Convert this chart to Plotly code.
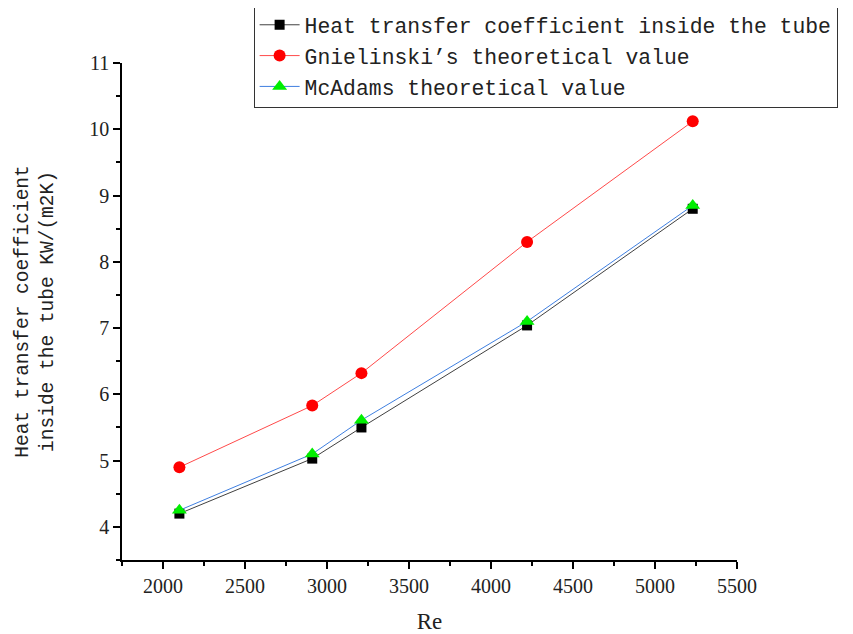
import plotly.graph_objects as go

re_values = [2100, 2910, 3210, 4220, 5230]
measured = [4.20, 5.03, 5.50, 7.04, 8.80]
gnielinski = [4.90, 5.83, 6.32, 8.30, 10.12]
mcadams = [4.25, 5.10, 5.61, 7.10, 8.85]

series_names = ["Heat transfer coefficient inside the tube",
                "Gnielinski\u2019s theoretical value",
                "McAdams theoretical value"]

fig = go.Figure()
fig.add_trace(go.Scatter(x=re_values, y=measured, mode="lines+markers", name=series_names[0],
                         line=dict(color="#404040", width=1),
                         marker=dict(symbol="square", size=10, color="black")))
fig.add_trace(go.Scatter(x=re_values, y=gnielinski, mode="lines+markers", name=series_names[1],
                         line=dict(color="#ff4a4a", width=1),
                         marker=dict(symbol="circle", size=12, color="red")))
fig.add_trace(go.Scatter(x=re_values, y=mcadams, mode="lines+markers", name=series_names[2],
                         line=dict(color="#3f7fe0", width=1),
                         marker=dict(symbol="triangle-up", size=13, color="#00ee00")))

axis_common = dict(showline=True, linecolor="black", linewidth=1.5, ticks="outside",
                   ticklen=7, tickwidth=1.5, tickcolor="black", showgrid=False, zeroline=False,
                   tickfont=dict(family="Liberation Serif", size=20, color="#222"),
                   mirror=False, automargin=False)

fig.update_xaxes(range=[1750, 5500], dtick=500, tick0=0,
                 minor=dict(ticks="outside", ticklen=4, tickwidth=1.5, tickcolor="black", dtick=250),
                 title=dict(text="Re", font=dict(family="Liberation Serif", size=23, color="#222"), standoff=22),
                 **axis_common)
fig.update_yaxes(range=[3.5, 11], dtick=1, tick0=0,
                 minor=dict(ticks="outside", ticklen=4, tickwidth=1.5, tickcolor="black", dtick=0.5),
                 title=dict(text="Heat transfer coefficient<br>inside the tube KW/(m2K)",
                            font=dict(family="Liberation Mono", size=19.5, color="#222"), standoff=30),
                 **axis_common)

fig.update_layout(
    width=845, height=626,
    margin=dict(l=114, r=116, t=55, b=74, autoexpand=False),
    plot_bgcolor="white", paper_bgcolor="white",
    legend=dict(x=0.214, y=1.12, xanchor="left", yanchor="top",
                bordercolor="#333", borderwidth=1, bgcolor="white",
                font=dict(family="Liberation Mono", size=21.4, color="#222"),
                itemwidth=40, tracegroupgap=0),
    showlegend=True,
)

fig.write_html("out.html")
